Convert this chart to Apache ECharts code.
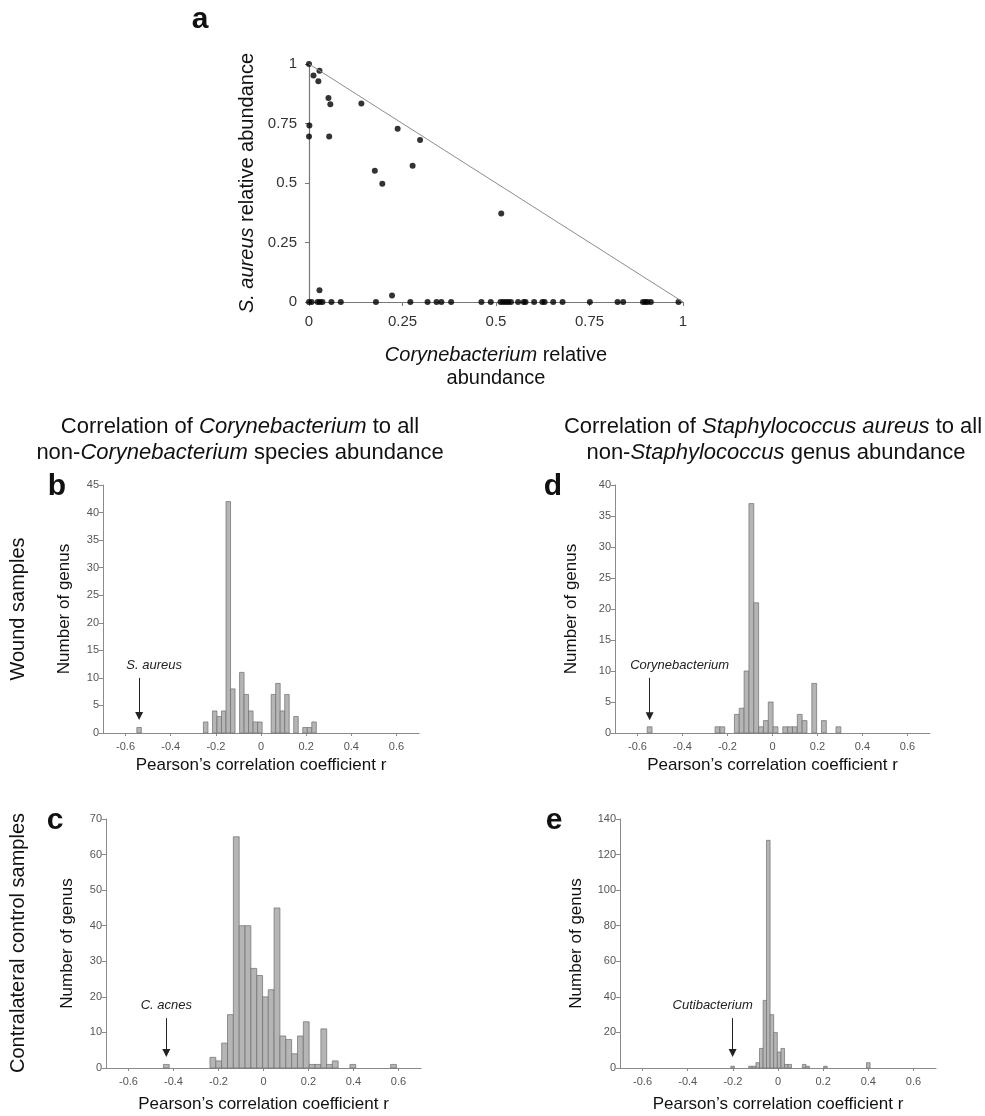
<!DOCTYPE html>
<html><head><meta charset="utf-8">
<script src="https://cdn.jsdelivr.net/npm/echarts@6/dist/echarts.min.js"></script>
<style>html,body{margin:0;padding:0;background:#fff}#c{width:985px;height:1116px}</style>
</head><body><div id="c"></div>
<script>
const FONT = "'Liberation Sans', Arial, Helvetica, sans-serif";

// ---- Panel a: S. aureus vs Corynebacterium relative abundance ----
const scatterX = [0, 0.012, 0.028, 0.025, 0.052, 0.057, 0.001, 0, 0.054, 0.14, 0.237, 0.297, 0.176, 0.196, 0.277, 0.514, 0.028, 0.222,
  0, 0.007, 0.023, 0.029, 0.036, 0.060, 0.085, 0.179, 0.271, 0.317, 0.341, 0.354, 0.380, 0.461, 0.486, 0.512, 0.519, 0.526, 0.533, 0.540,
  0.559, 0.574, 0.579, 0.602, 0.624, 0.630, 0.653, 0.678, 0.751, 0.825, 0.840, 0.893, 0.899, 0.905, 0.914, 0.988];
const scatterY = [1, 0.952, 0.972, 0.927, 0.857, 0.831, 0.742, 0.695, 0.695, 0.834, 0.728, 0.681, 0.551, 0.497, 0.573, 0.372, 0.049, 0.027,
  0, 0, 0, 0, 0, 0, 0, 0, 0, 0, 0, 0, 0, 0, 0, 0, 0, 0, 0, 0,
  0, 0, 0, 0, 0, 0, 0, 0, 0, 0, 0, 0, 0, 0, 0, 0];
const diagX = [0, 1];
const diagY = [1, 0];

// ---- Histograms: bin centres (r) and counts ----
const xTickVals = [-0.6, -0.4, -0.2, 0, 0.2, 0.4, 0.6];
// b: Corynebacterium vs others, wound
const bCenters = [-0.54, -0.245, -0.205, -0.185, -0.165, -0.145, -0.125, -0.085, -0.065, -0.045, -0.025, -0.005, 0.055, 0.075, 0.095, 0.115, 0.155, 0.195, 0.215, 0.235];
const bCounts  = [1, 2, 4, 3, 4, 42, 8, 11, 7, 4, 2, 2, 7, 9, 4, 7, 3, 1, 1, 2];
const bWidth = 0.02;
// d: S. aureus vs others, wound
const dCenters = [-0.546, -0.2445, -0.223, -0.1585, -0.137, -0.1155, -0.094, -0.0725, -0.051, -0.0295, -0.008, 0.0135, 0.0565, 0.078, 0.0995, 0.121, 0.1425, 0.1855, 0.2285, 0.293];
const dCounts  = [1, 1, 1, 3, 4, 10, 37, 21, 1, 2, 5, 1, 1, 1, 1, 3, 2, 8, 2, 1];
const dWidth = 0.0215;
// c: Corynebacterium vs others, contralateral
const cCenters = [-0.432, -0.225, -0.199, -0.173, -0.147, -0.121, -0.095, -0.069, -0.043, -0.017, 0.009, 0.034, 0.060, 0.086, 0.112, 0.138, 0.164, 0.190, 0.216, 0.242, 0.268, 0.293, 0.319, 0.397, 0.578];
const cCounts  = [1, 3, 2, 7, 15, 65, 40, 40, 28, 26, 20, 22, 45, 9, 8, 4, 9, 13, 1, 1, 11, 1, 2, 1, 1];
const cWidth = 0.0259;
// e: S. aureus vs others, contralateral
const eCenters = [-0.201, -0.122, -0.106, -0.090, -0.074, -0.058, -0.043, -0.027, -0.011, 0.005, 0.021, 0.037, 0.052, 0.116, 0.131, 0.210, 0.400];
const eCounts  = [1, 1, 1, 3, 11, 38, 128, 30, 20, 9, 11, 2, 2, 2, 1, 1, 3];
const eWidth = 0.0158;

// annotations: [label, arrow x, arrow start y, arrow end y]
const bNote = ['S. aureus', -0.54, 10, 3.1];
const dNote = ['Corynebacterium', -0.546, 8.9, 2.7];
const cNote = ['C. acnes', -0.432, 14, 4.2];
const eNote = ['Cutibacterium', -0.201, 28, 8.4];

const GRAY_AX = '#8a8a8a';
function histX(gi, gap) {
  return {
    gridIndex: gi, type: 'value', min: -0.7, max: 0.7,
    splitLine: {show: false},
    axisLine: {onZero: false, lineStyle: {color: GRAY_AX, width: 1}},
    axisTick: {show: true, customValues: xTickVals, length: 3, lineStyle: {color: GRAY_AX}},
    axisLabel: {customValues: xTickVals, fontSize: 11, color: '#555', fontFamily: FONT, margin: 8,
      formatter: v => String(Math.round(v * 10) / 10)},
    name: 'Pearson\u2019s correlation coefficient r', nameLocation: 'middle', nameGap: gap,
    nameTextStyle: {fontSize: 17, color: '#111', fontFamily: FONT}
  };
}
function histY(gi, max, interval, gap) {
  return {
    gridIndex: gi, type: 'value', min: 0, max: max, interval: interval,
    splitLine: {show: false},
    axisLine: {show: true, onZero: false, lineStyle: {color: GRAY_AX, width: 1}},
    axisTick: {show: true, length: 4, lineStyle: {color: GRAY_AX}},
    axisLabel: {fontSize: 11, color: '#555', fontFamily: FONT, margin: 4},
    name: 'Number of genus', nameLocation: 'middle', nameGap: gap, nameRotate: 90,
    nameTextStyle: {fontSize: 17, color: '#111', fontFamily: FONT}
  };
}
function histSeries(gi, centers, counts, w) {
  return {
    type: 'custom', xAxisIndex: gi, yAxisIndex: gi, silent: true, clip: false,
    encode: {x: 0, y: 1},
    data: centers.map((c, i) => [c, counts[i]]),
    renderItem: function (params, api) {
      const x = api.value(0), y = api.value(1);
      const p0 = api.coord([x - w / 2, y]);
      const p1 = api.coord([x + w / 2, 0]);
      return {type: 'rect', shape: {x: p0[0], y: p0[1], width: p1[0] - p0[0], height: p1[1] - p0[1]},
        style: {fill: '#b5b5b5', stroke: '#6f6f6f', lineWidth: 0.7}};
    }
  };
}
function noteSeries(gi, note, dx) {
  return {
    type: 'scatter', xAxisIndex: gi, yAxisIndex: gi, silent: true, symbolSize: 0,
    data: [[note[1], note[3]]],
    markLine: {
      silent: true, animation: false, symbol: ['none', 'triangle'], symbolSize: 8,
      lineStyle: {color: '#222', width: 1, type: 'solid'},
      label: {show: true, position: 'start', distance: 6, offset: [dx, 0], formatter: '{i|' + note[0] + '}',
        rich: {i: {fontStyle: 'italic', fontSize: 13, fontFamily: FONT, color: '#222'}}},
      data: [[{coord: [note[1], note[2]]}, {coord: [note[1], note[3]]}]]
    }
  };
}
function txt(x, y, text, size, extra) {
  extra = extra || {};
  const style = Object.assign({text: text, fontSize: size, fontFamily: FONT, fill: '#111',
    align: 'center', verticalAlign: 'middle', textAlign: 'center', textVerticalAlign: 'middle'}, extra.style || {});
  if (extra.rich) style.rich = extra.rich;
  return {type: 'text', x: x, y: y, rotation: extra.rotation || 0, silent: true, style: style};
}
const ital = s => ({i: {fontStyle: 'italic', fontSize: s, fontFamily: FONT, fill: '#111'}});

const chart = echarts.init(document.getElementById('c'), null, {renderer: 'canvas'});
chart.setOption({
  animation: false,
  backgroundColor: '#fff',
  grid: [
    {left: 309, top: 64, width: 374, height: 238},
    {left: 103, top: 485, width: 316, height: 248},
    {left: 615, top: 485, width: 315, height: 248},
    {left: 106, top: 819, width: 315, height: 249},
    {left: 620, top: 819, width: 316, height: 249}
  ],
  xAxis: [
    {gridIndex: 0, type: 'value', min: 0, max: 1, interval: 0.25, splitLine: {show: false},
      axisLine: {onZero: false, lineStyle: {color: '#777', width: 1.2}},
      axisTick: {show: true, length: 4, lineStyle: {color: '#777'}},
      axisLabel: {fontSize: 15, color: '#333', fontFamily: FONT, margin: 12}},
    histX(1, 24), histX(2, 24), histX(3, 28), histX(4, 28)
  ],
  yAxis: [
    {gridIndex: 0, type: 'value', min: 0, max: 1, interval: 0.25, splitLine: {show: false},
      axisLine: {show: true, onZero: false, lineStyle: {color: '#777', width: 1.2}},
      axisTick: {show: true, length: 4, lineStyle: {color: '#777'}},
      axisLabel: {fontSize: 15, color: '#333', fontFamily: FONT, margin: 12}},
    histY(1, 45, 5, 30), histY(2, 40, 5, 35), histY(3, 70, 10, 30), histY(4, 140, 20, 35)
  ],
  series: [
    {type: 'line', xAxisIndex: 0, yAxisIndex: 0, silent: true, symbol: 'none',
      data: diagX.map((x, i) => [x, diagY[i]]), lineStyle: {color: '#8c8c8c', width: 1}},
    {type: 'scatter', xAxisIndex: 0, yAxisIndex: 0, silent: true, clip: false, symbolSize: 6,
      itemStyle: {color: '#000'}, data: scatterX.map((x, i) => [x, scatterY[i]])},
    histSeries(1, bCenters, bCounts, bWidth),
    histSeries(2, dCenters, dCounts, dWidth),
    histSeries(3, cCenters, cCounts, cWidth),
    histSeries(4, eCenters, eCounts, eWidth),
    noteSeries(1, bNote, 15), noteSeries(2, dNote, 30), noteSeries(3, cNote, 0), noteSeries(4, eNote, -20)
  ],
  graphic: [
    txt(200, 20, 'a', 30, {style: {fontWeight: 'bold'}}),
    txt(247, 183, '{i|S. aureus} relative abundance', 20, {rotation: Math.PI / 2, rich: ital(20)}),
    txt(496, 355, '{i|Corynebacterium} relative', 20, {rich: ital(20)}),
    txt(496, 378, 'abundance', 20),
    txt(240, 427, 'Correlation of {i|Corynebacterium} to all', 22, {rich: ital(22)}),
    txt(240, 453, 'non-{i|Corynebacterium} species abundance', 22, {rich: ital(22)}),
    txt(773, 427, 'Correlation of {i|Staphylococcus aureus} to all', 22, {rich: ital(22)}),
    txt(776, 453, 'non-{i|Staphylococcus} genus abundance', 22, {rich: ital(22)}),
    txt(57, 487, 'b', 30, {style: {fontWeight: 'bold'}}),
    txt(55, 821, 'c', 30, {style: {fontWeight: 'bold'}}),
    txt(553, 487, 'd', 30, {style: {fontWeight: 'bold'}}),
    txt(554, 821, 'e', 30, {style: {fontWeight: 'bold'}}),
    txt(18, 609, 'Wound samples', 20, {rotation: Math.PI / 2}),
    txt(18, 943, 'Contralateral control samples', 20, {rotation: Math.PI / 2})
  ]
});
</script></body></html>
